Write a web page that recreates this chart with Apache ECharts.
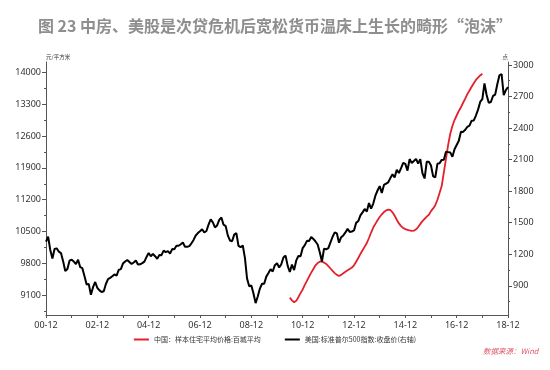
<!DOCTYPE html>
<html><head><meta charset="utf-8">
<script src="https://cdn.jsdelivr.net/npm/echarts@6/dist/echarts.min.js"></script>
<style>html,body{margin:0;padding:0;background:#fff}#c{width:550px;height:370px}</style>
</head><body><div id="c"></div>
<script>
// categories: monthly, 2000-12 .. 2018-12 (labels "YY-MM")
const months = [];
for (let y = 2000, m = 12; y < 2019; ) {
  months.push(String(y % 100).padStart(2, '0') + '-' + String(m).padStart(2, '0'));
  m++; if (m > 12) { m = 1; y++; }
}
// 美国:标准普尔500指数:收盘价 (right axis), 2000-12 .. 2018-12
const spx = [
  1320,
  1366,1240,1160,1249,1256,1224,1211,1134,1041,1060,1139,1148,
  1130,1107,1147,1077,1067,990,912,916,815,886,936,880,
  856,841,848,917,964,975,990,1008,996,1051,1058,1112,
  1131,1145,1126,1107,1121,1141,1102,1104,1115,1130,1174,1212,
  1181,1204,1181,1157,1192,1191,1234,1220,1229,1207,1249,1248,
  1280,1281,1295,1311,1270,1270,1277,1304,1336,1378,1401,1418,
  1438,1407,1421,1482,1531,1503,1455,1474,1527,1549,1481,1468,
  1379,1331,1323,1386,1400,1280,1267,1283,1166,969,896,903,
  826,735,798,873,919,919,987,1021,1057,1036,1096,1115,
  1074,1104,1169,1187,1089,1031,1102,1049,1141,1183,1181,1258,
  1286,1327,1326,1364,1345,1321,1292,1219,1131,1253,1247,1258,
  1312,1366,1408,1398,1310,1362,1379,1407,1441,1412,1416,1426,
  1498,1515,1569,1598,1631,1606,1686,1633,1682,1757,1806,1848,
  1783,1859,1872,1884,1924,1960,1931,2003,1972,2018,2068,2059,
  1995,2105,2068,2086,2107,2063,2104,1972,1920,2079,2080,2044,
  1940,1932,2060,2065,2097,2099,2174,2171,2168,2126,2199,2239,
  2279,2364,2363,2384,2412,2423,2470,2472,2519,2575,2648,2674,
  2824,2714,2641,2648,2705,2718,2816,2902,2914,2712,2760,2790
];
// 中国：样本住宅平均价格:百城平均 (left axis), 2010-06 .. 2017-12
const chinaStart = '10-06';
const china = [
  9050,8990,8950,8980,9060,9150,9230,
  9330,9420,9510,9600,9680,9760,9810,9840,9845,9820,9790,9740,
  9690,9640,9590,9550,9525,9550,9585,9620,9650,9680,9710,9760,
  9840,9920,10010,10090,10170,10250,10360,10480,10590,10670,10750,10820,
  10880,10930,10965,10985,10975,10925,10850,10760,10680,10620,10580,10555,
  10540,10525,10515,10520,10550,10600,10670,10730,10780,10830,10870,10950,
  11010,11080,11200,11350,11500,11800,12100,12400,12650,12820,12950,13050,
  13150,13230,13330,13420,13520,13600,13680,13760,13830,13880,13930,13967
];
const leftTicks = [9100, 9800, 10500, 11200, 11900, 12600, 13300, 14000];
const rightTicks = [900, 1200, 1500, 1800, 2100, 2400, 2700, 3000];
const leftMinor = [8750, 9450, 10150, 10850, 11550, 12250, 12950, 13650];
const rightMinor = [750, 1050, 1350, 1650, 1950, 2250, 2550, 2850];

const title = '图 23 中房、美股是次贷危机后宽松货币温床上生长的畸形“泡沫”';
const nameChina = '中国：样本住宅平均价格:百城平均';
const nameUS = '美国:标准普尔500指数:收盘价(右轴)';

const startIdx = months.indexOf(chinaStart);
const chinaFull = months.map((_, i) => (i >= startIdx && i - startIdx < china.length) ? china[i - startIdx] : null);

const FONT = 'Noto Sans, Noto Sans CJK SC, sans-serif';
const axisColor = '#555';
const LMIN = 8669, LMAX = 14225, RMIN = 622, RMAX = 3028;
const plain = (v) => String(v);

const chart = echarts.init(document.getElementById('c'), null, {renderer: 'canvas'});
chart.setOption({
  animation: false,
  backgroundColor: '#fff',
  textStyle: {fontFamily: FONT},
  title: {
    text: title, left: 'center', top: 13,
    textStyle: {fontSize: 16, fontWeight: 'bold', color: '#8e8e8e', fontFamily: 'Noto Sans CJK SC'}
  },
  grid: {left: 46, right: 42, top: 62, bottom: 55, containLabel: false},
  legend: {
    bottom: 22, left: 'center', itemWidth: 15, itemHeight: 2, icon: 'rect', itemGap: 24,
    textStyle: {fontSize: 7, color: '#333', fontFamily: 'Noto Sans CJK SC'},
    data: [nameChina, nameUS]
  },
  graphic: [{
    type: 'text', left: 483, top: 347,
    style: {text: '数据来源：Wind', fontSize: 7.5, fontStyle: 'italic', fill: '#e0566a', fontFamily: 'Noto Sans CJK SC'}
  }],
  xAxis: {
    type: 'category', data: months, boundaryGap: false,
    axisLine: {lineStyle: {color: axisColor, width: 1}},
    axisTick: {interval: (i) => i % 12 === 0, length: 3, lineStyle: {color: axisColor}},
    axisLabel: {interval: (i) => i % 24 === 0, fontSize: 9, color: '#333', margin: 6},
    splitLine: {show: false}
  },
  yAxis: [
    {
      type: 'value', position: 'left', min: LMIN, max: LMAX,
      name: '元/平方米', nameLocation: 'end', nameGap: 2,
      nameTextStyle: {fontSize: 5.5, color: '#333', align: 'left', fontFamily: 'Noto Sans CJK SC'},
      axisLine: {show: true, lineStyle: {color: axisColor}},
      axisTick: {show: true, length: 4, lineStyle: {color: axisColor}, customValues: leftTicks},
      axisLabel: {fontSize: 9, color: '#333', margin: 5, customValues: leftTicks, formatter: plain},
      splitLine: {show: false}
    },
    {
      type: 'value', position: 'right', min: RMIN, max: RMAX,
      name: '点', nameLocation: 'end', nameGap: 2,
      nameTextStyle: {fontSize: 5.5, color: '#333', align: 'right', fontFamily: 'Noto Sans CJK SC'},
      axisLine: {show: true, lineStyle: {color: axisColor}},
      axisTick: {show: true, length: 4, lineStyle: {color: axisColor}, customValues: rightTicks},
      axisLabel: {fontSize: 9, color: '#333', margin: 5, customValues: rightTicks, formatter: plain},
      splitLine: {show: false}
    },
    {
      type: 'value', position: 'left', min: LMIN, max: LMAX,
      axisLine: {show: false},
      axisTick: {show: true, length: 2, lineStyle: {color: axisColor}, customValues: leftMinor},
      axisLabel: {show: false},
      splitLine: {show: false}
    },
    {
      type: 'value', position: 'right', min: RMIN, max: RMAX,
      axisLine: {show: false},
      axisTick: {show: true, length: 2, lineStyle: {color: axisColor}, customValues: rightMinor},
      axisLabel: {show: false},
      splitLine: {show: false}
    }
  ],
  series: [
    {
      name: nameChina, type: 'line', yAxisIndex: 0, data: chinaFull,
      symbol: 'none', smooth: false, connectNulls: false,
      lineStyle: {color: '#e3202b', width: 1.8}, itemStyle: {color: '#e3202b'}
    },
    {
      name: nameUS, type: 'line', yAxisIndex: 1, data: spx,
      symbol: 'none', smooth: false,
      lineStyle: {color: '#000', width: 2}, itemStyle: {color: '#000'}
    }
  ]
});
</script>
</body></html>
